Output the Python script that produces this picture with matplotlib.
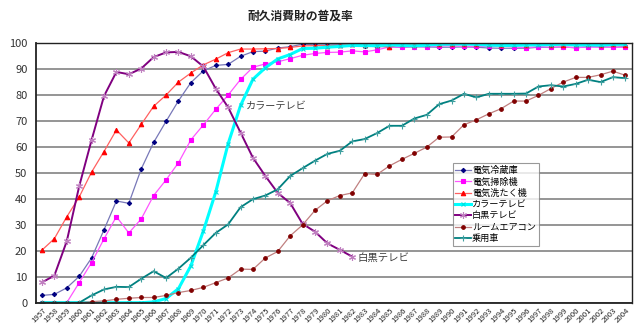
import numpy as np
import matplotlib
matplotlib.use("Agg")
import matplotlib.pyplot as plt

plt.rcParams['font.family'] = ['Noto Sans CJK JP', 'DejaVu Sans']

years = list(range(1957, 2005))

fridge = [2.8, 3.2, 5.7, 10.1, 17.2, 28.0, 39.1, 38.2, 51.4, 61.6, 69.7, 77.6, 84.6, 89.1,
          91.2, 91.6, 94.7, 96.5, 96.7, 97.9, 98.4, 99.4, 99.1, 99.1, 99.2, 99.5, 98.7, 98.4,
          98.4, 98.1, 98.4, 98.3, 98.2, 98.2, 98.3, 98.2, 97.9, 97.8, 97.8, 97.8, 98.2, 98.1,
          98.3, 98.0, 98.4, 98.4, 98.2, 98.4]
vacuum = [0, 0, 0, 7.7, 15.4, 24.5, 33.1, 26.8, 32.2, 41.2, 47.2, 53.8, 62.6, 68.3,
          74.3, 79.8, 85.8, 90.5, 91.8, 92.6, 93.8, 95.1, 95.8, 96.2, 96.3, 96.8, 96.4, 97.2,
          98.3, 98.2, 98.4, 98.4, 98.7, 98.8, 98.5, 98.5, 98.6, 98.7, 98.3, 98.0, 98.4, 98.2,
          98.3, 98.0, 98.3, 98.2, 98.2, 98.1]
washer = [20.2, 24.6, 33.0, 40.6, 50.2, 58.1, 66.4, 61.4, 68.5, 75.5, 79.8, 84.8, 88.3, 91.4,
          93.6, 96.1, 97.5, 97.5, 97.6, 97.7, 98.1, 98.7, 98.8, 98.8, 98.9, 99.4, 99.0, 98.9,
          98.1, 99.6, 99.0, 99.3, 99.3, 99.5, 99.3, 99.5, 99.3, 99.2, 99.4, 99.0, 99.8, 99.1,
          99.1, 99.4, 99.3, 99.2, 99.3, 99.2]
color_tv = [0, 0, 0, 0, 0, 0, 0, 0, 0, 0.3, 1.6, 5.4, 14.2, 27.5,
            42.5, 61.1, 75.8, 85.9, 90.3, 93.7, 95.4, 97.7, 97.8, 98.2, 98.5, 98.9, 98.8, 98.8,
            99.1, 98.9, 98.7, 99.0, 99.3, 99.4, 99.4, 99.3, 99.0, 98.9, 98.9, 99.0, 99.1, 99.2,
            99.4, 99.0, 99.1, 99.0, 99.3, 99.3]
bw_tv = [7.8, 10.4, 23.6, 44.7, 62.5, 79.4, 88.7, 87.8, 90.0, 94.4, 96.2, 96.4, 94.7, 90.8,
         82.3, 75.1, 65.4, 55.7, 48.7, 42.2, 38.3, 30.3, 27.3, 22.8, 20.3, 17.7] + [np.nan] * 22
aircon = [0, 0, 0, 0, 0.4, 0.7, 1.3, 1.7, 2.0, 2.0, 2.8, 3.9, 4.7, 5.9,
          7.7, 9.5, 12.9, 12.8, 17.2, 19.7, 25.7, 29.9, 35.5, 39.2, 41.2, 42.2, 49.6, 49.3,
          52.6, 55.1, 57.4, 59.8, 63.6, 63.7, 68.4, 70.3, 72.6, 74.6, 77.5, 77.5, 79.7, 82.3,
          84.8, 86.6, 86.6, 87.6, 89.0, 87.4]
car = [0, 0, 0, 0, 2.8, 5.1, 6.1, 6.0, 9.2, 12.1, 9.5, 13.1, 17.3, 22.1,
       26.8, 30.1, 36.7, 39.8, 41.2, 43.6, 48.7, 51.7, 54.6, 57.2, 58.4, 62.0, 62.9, 65.2,
       68.0, 68.0, 70.8, 72.2, 76.3, 77.7, 80.3, 78.9, 80.3, 80.3, 80.3, 80.4, 83.1, 83.6,
       83.1, 84.1, 85.7, 84.8, 86.7, 86.3]

labels = ['電気冷蔵庫', '電気掃除機', '電気洗たく機', 'カラーテレビ', '白黒テレビ', 'ルームエアコン', '乗用車']

x = np.arange(len(years))

fig = plt.figure(figsize=(6.4, 3.31), dpi=100)
ax = fig.add_axes([0.0558, 0.0855, 0.931, 0.786])

# line colour, marker colour, marker, line width, marker size
styles = [
    ('#7878b8', '#000080', 'D', 0.9, 2.2),
    ('#ff55ff', '#ff00ff', 's', 0.9, 2.8),
    ('#ff6060', '#ff0000', '^', 0.9, 3.2),
    ('#00ffff', '#00e0e0', 'x', 2.2, 3.5),
    ('#800080', '#c080c0', (6, 2, 0), 1.4, 5.0),
    ('#c08080', '#800000', 'o', 0.9, 2.6),
    ('#008080', '#40a0a0', '+', 1.3, 4.0),
]
series = [fridge, vacuum, washer, color_tv, bw_tv, aircon, car]

for s, lab, (lc, mc, mk, lw, ms) in zip(series, labels, styles):
    ax.plot(x, s, color=lc, lw=lw, marker=mk, ms=ms, mfc=mc, mec=mc, mew=0.8, label=lab)

ax.set_xlim(-0.5, len(years) - 0.5)
ax.set_ylim(0, 100)
ax.set_yticks(np.arange(0, 101, 10))
ax.set_xticks(x)
ax.set_xticklabels([str(y) for y in years], rotation=45, ha='right', va='top',
                   rotation_mode='anchor', fontsize=5.6, color='#222222')
ax.tick_params(axis='x', length=0, pad=3)
ax.tick_params(axis='y', length=0, pad=6, labelsize=8, labelcolor='#333333')
ax.yaxis.grid(True, color='#8c8c8c', lw=1.3)
ax.set_axisbelow(True)
for sp in ax.spines.values():
    sp.set_color('#222222')
    sp.set_linewidth(1.0)
ax.spines['left'].set_linewidth(1.3)
ax.spines['bottom'].set_linewidth(1.3)

ax.text(16.4, 75.6, 'カラーテレビ', fontsize=7.3, color='#404040', va='center', ha='left')
ax.text(25.4, 17.2, '白黒テレビ', fontsize=7.5, color='#404040', va='center', ha='left')

fig.text(300 / 640, 1 - 16 / 331, '耐久消費財の普及率', fontsize=8.5, fontweight='bold',
         ha='center', va='center', color='#222222')

leg = ax.legend(loc='upper left', bbox_to_anchor=(452.7 / 640, 1 - 163.3 / 331),
                bbox_transform=fig.transFigure, fontsize=6.6, frameon=True, fancybox=False,
                edgecolor='#808080', handlelength=1.7, handletextpad=0.1, borderpad=0.3,
                labelspacing=0.25, borderaxespad=0)
leg.get_frame().set_linewidth(0.8)

fig.savefig('out.png', dpi=100)
